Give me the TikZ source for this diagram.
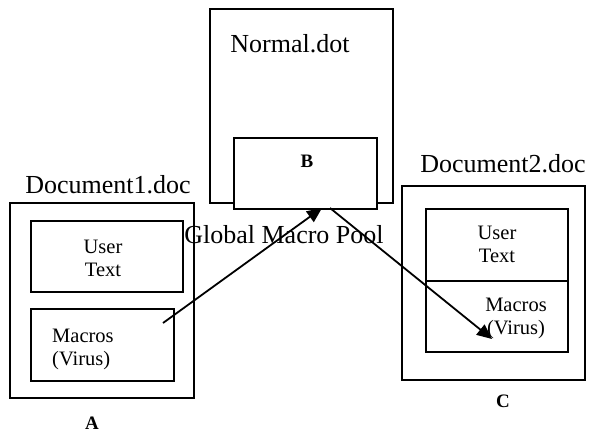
\documentclass[tikz,border=0pt]{standalone}
\usepackage{fontspec}
\setmainfont{Liberation Serif}
\usetikzlibrary{arrows.meta}
\begin{document}
\begin{tikzpicture}[x=1pt,y=-1pt,
  box/.style={draw,line width=2pt,rectangle,inner sep=0pt},
  title/.style={font=\fontsize{26}{30}\selectfont,inner sep=0pt,anchor=base},
  body/.style={font=\fontsize{20.5}{23}\selectfont,inner sep=0pt,align=center},
  lbl/.style={font=\fontsize{19}{22}\selectfont\bfseries,inner sep=0pt,anchor=base},
  conn/.style={line width=1.8pt,-{Triangle[length=15pt,width=13pt]}}]
\useasboundingbox (0,0) rectangle (593,437);
% left document
\node[box,minimum width=184pt,minimum height=195pt] (docA) at (102,300.5) {};
\node[box,minimum width=152pt,minimum height=71pt] (userA) at (107,256.5) {};
\node[box,minimum width=143pt,minimum height=72pt] (macA) at (102.5,345) {};
\node[title] (tA) at (108,193) {Document1.doc};
\node[body] (utA) at (103,258) {User\\Text};
\node[body,align=left,anchor=west] (mtA) at (52,349) {Macros\\(Virus)};
\node[lbl] (lA) at (92,429) {A};
% normal.dot
\node[box,minimum width=183pt,minimum height=194pt] (norm) at (301.5,106) {};
\node[box,fill=white,minimum width=143pt,minimum height=71pt] (Bbox) at (305.5,173.5) {};
\node[title] (tN) at (290,52) {Normal.dot};
\node[lbl] (lB) at (307,167) {B};
\node[title] (pool) at (284,243) {Global Macro Pool};
% right document
\node[box,minimum width=183pt,minimum height=194pt] (docC) at (493.5,283) {};
\node[box,minimum width=142pt,minimum height=72pt] (userC) at (497,245) {};
\node[box,minimum width=142pt,minimum height=71pt] (macC) at (497,316.5) {};
\node[title] (tC) at (503,172) {Document2.doc};
\node[body] (utC) at (497,244.5) {User\\Text};
\node[body] (mtC) at (516,318) {Macros\\(Virus)};
\node[lbl] (lC) at (503,407) {C};
% connectors
\coordinate (s1) at (163,323);
\coordinate (e1) at (322,208);
\coordinate (s2) at (330,208);
\coordinate (e2) at (492,339);
\draw[conn] (s1) -- (e1);
\draw[conn] (s2) -- (e2);
\end{tikzpicture}
\end{document}
